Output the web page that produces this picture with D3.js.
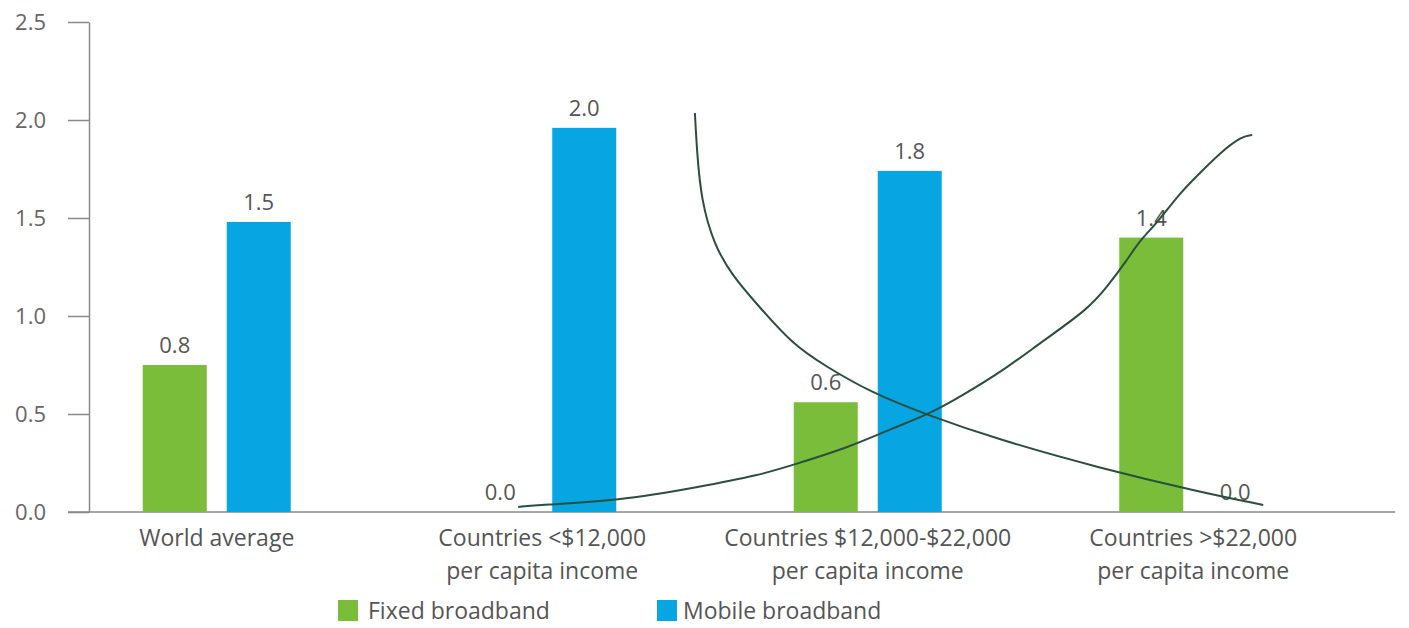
<!DOCTYPE html>
<html>
<head>
<meta charset="utf-8">
<script src="https://cdn.jsdelivr.net/npm/d3@7"></script>
<style>
  body { margin: 0; background: #fff; }
  text { font-family: "Open Sans", sans-serif; }
</style>
</head>
<body>
<div id="chart"></div>
<script>
// datos
const categories = ["World average", "Countries <$12,000", "Countries $12,000-$22,000", "Countries >$22,000"];
const categoryLines = [
  ["World average"],
  ["Countries <$12,000", "per capita income"],
  ["Countries $12,000-$22,000", "per capita income"],
  ["Countries >$22,000", "per capita income"]
];
const seriesNames = ["Fixed broadband", "Mobile broadband"];
const fixedValues = [0.75, 0.0, 0.56, 1.40];
const mobileValues = [1.48, 1.96, 1.74, 0.0];
const fixedLabels = ["0.8", "0.0", "0.6", "1.4"];
const mobileLabels = ["1.5", "2.0", "1.8", "0.0"];
const yTicks = [0, 0.5, 1.0, 1.5, 2.0, 2.5];

// the two hand drawn curves: [category index, value]
const curveDown = [
  [1.469, 2.036], [1.475, 1.847], [1.488, 1.592], [1.528, 1.362], [1.583, 1.209],
  [1.654, 1.071], [1.770, 0.852], [1.875, 0.740], [2.007, 0.612], [2.182, 0.495],
  [2.406, 0.367], [2.713, 0.224], [3.021, 0.102], [3.215, 0.036]
];
const curveUp = [
  [0.926, 0.026], [0.993, 0.036], [1.229, 0.056], [1.485, 0.128], [1.669, 0.189],
  [1.770, 0.240], [1.946, 0.332], [2.078, 0.429], [2.182, 0.495], [2.284, 0.587],
  [2.428, 0.735], [2.529, 0.862], [2.674, 1.031], [2.735, 1.148], [2.797, 1.286],
  [2.837, 1.388], [2.889, 1.474], [2.959, 1.628], [3.021, 1.730], [3.082, 1.832],
  [3.150, 1.918], [3.181, 1.923]
];

const COLORS = { "Fixed broadband": "#79bd3b", "Mobile broadband": "#07a6e2" };

const SVG_WIDTH = 1409;
const SVG_HEIGHT = 628;

const svg = d3.select("#chart").append("svg")
  .attr("width", SVG_WIDTH)
  .attr("height", SVG_HEIGHT);

// escalas
const y = d3.scaleLinear().domain([0, 2.5]).range([512, 22]);
const x = d3.scaleBand().domain(categories).range([54, 1356]);
const xs = d3.scaleBand().domain(seriesNames).range([-74, 74]).paddingInner(0.238);
const center = c => x(c) + x.bandwidth() / 2;
const xi = d3.scaleLinear().domain([0, 3]).range([center(categories[0]), center(categories[3])]);

// eje y
const yAxis = svg.append("g")
  .attr("transform", "translate(89,0)")
  .call(d3.axisLeft(y).tickValues(yTicks).tickFormat(d3.format(".1f"))
    .tickSize(21).tickPadding(22).tickSizeOuter(0));
yAxis.select(".domain").attr("stroke", "#8a8a8a").attr("stroke-width", 1.5);
yAxis.selectAll(".tick line").attr("stroke", "#8a8a8a").attr("stroke-width", 1.5);
yAxis.selectAll(".tick text")
  .attr("fill", "#666")
  .style("font-size", "22px")
  .style("font-family", "'Open Sans', sans-serif");

// linea base
svg.append("line")
  .attr("x1", 68).attr("x2", 1395)
  .attr("y1", y(0)).attr("y2", y(0))
  .attr("stroke", "#8a8a8a").attr("stroke-width", 1.5);

// barras
const rows = categories.map((c, i) => [
  { cat: c, series: seriesNames[0], value: fixedValues[i], label: fixedLabels[i] },
  { cat: c, series: seriesNames[1], value: mobileValues[i], label: mobileLabels[i] }
]).flat();

svg.append("g").selectAll("rect")
  .data(rows.filter(d => d.value > 0))
  .join("rect")
  .attr("x", d => center(d.cat) + xs(d.series))
  .attr("width", xs.bandwidth())
  .attr("y", d => y(d.value))
  .attr("height", d => y(0) - y(d.value))
  .attr("fill", d => COLORS[d.series]);

svg.append("g").selectAll("text")
  .data(rows)
  .join("text")
  .attr("x", d => center(d.cat) + xs(d.series) + xs.bandwidth() / 2)
  .attr("y", d => y(d.value) - 12)
  .attr("text-anchor", "middle")
  .attr("fill", "#555")
  .style("font-size", "22px")
  .text(d => d.label);

// etiquetas de categorias
const catG = svg.append("g").selectAll("text")
  .data(categories)
  .join("text")
  .attr("text-anchor", "middle")
  .attr("fill", "#555")
  .style("font-size", "23px");
catG.selectAll("tspan")
  .data((d, i) => categoryLines[i].map(t => ({ t, c: d })))
  .join("tspan")
  .attr("x", d => center(d.c))
  .attr("y", (d, j) => 546 + j * 33)
  .text(d => d.t);

// curvas
const line = d3.line()
  .x(d => xi(d[0]))
  .y(d => y(d[1]))
  .curve(d3.curveBasis);

[curveDown, curveUp].forEach(pts => {
  svg.append("path")
    .attr("d", line(pts))
    .attr("fill", "none")
    .attr("stroke", "#2a4f3c")
    .attr("stroke-width", 2);
});

// leyenda
const legendX = [338, 657];
const legend = svg.append("g").selectAll("g")
  .data(seriesNames)
  .join("g")
  .attr("transform", (d, i) => `translate(${legendX[i]},600)`);
legend.append("rect")
  .attr("width", 20).attr("height", 21)
  .attr("fill", d => COLORS[d]);
legend.append("text")
  .attr("x", (d, i) => i === 0 ? 30 : 26)
  .attr("y", 19)
  .attr("fill", "#555")
  .style("font-size", "23px")
  .text(d => d);
</script>
</body>
</html>
